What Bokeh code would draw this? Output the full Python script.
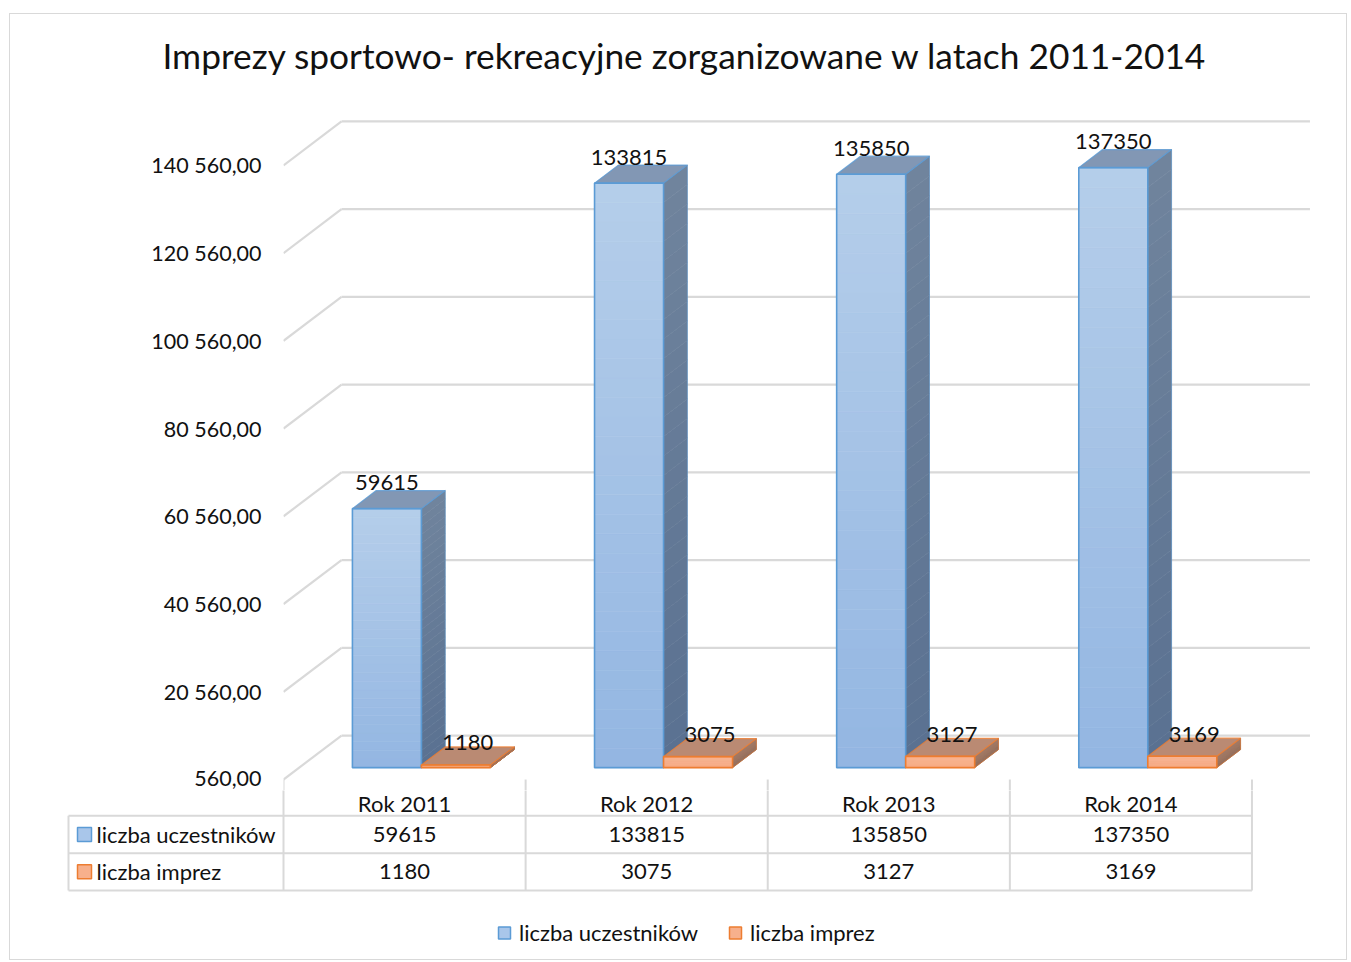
from bokeh.plotting import figure
from bokeh.models import FixedTicker, Legend, LegendItem, ColumnDataSource, Range1d
from bokeh.embed import file_html
from bokeh.resources import INLINE
from bokeh.core.properties import value

# ---------------- data ----------------
title_text = "Imprezy sportowo- rekreacyjne zorganizowane w latach 2011-2014"
categories = ["Rok 2011", "Rok 2012", "Rok 2013", "Rok 2014"]
series_names = ["liczba uczestników", "liczba imprez"]
uczestnicy = [59615, 133815, 135850, 137350]
imprezy = [1180, 3075, 3127, 3169]
y_ticks = [560, 20560, 40560, 60560, 80560, 100560, 120560, 140560]
y_tick_labels = ["560,00", "20 560,00", "40 560,00", "60 560,00",
                 "80 560,00", "100 560,00", "120 560,00", "140 560,00"]

# ---------------- style / geometry ----------------
FONT = "Lato"
TXT = "#111111"
GRID = "#d9d9d9"
BORDER = "#d9d9d9"
W = 1338                         # figure width (content box)
PAGE_X0, PAGE_Y0 = 10, 14        # content origin on the page
FRAME_L, FRAME_R = 283, 1312     # chart frame in page px
FRAME_T = 92
AXIS_Y = 779                     # page y of the front floor edge (value 560)
SPLIT_Y = 791                    # where the chart figure ends and the table figure starts
PAGE_B = 961
PX_PER_VAL = 615.0 / 140000.0
X_MAX = 4.25
PX_PER_CAT = (FRAME_R - FRAME_L) / X_MAX

Y_MIN = y_ticks[0]
Y_TOP = Y_MIN + (AXIS_Y - FRAME_T) / PX_PER_VAL
Y_BOT = Y_MIN - (SPLIT_Y - AXIS_Y) / PX_PER_VAL

DX, DY = 58 / PX_PER_CAT, 44 / PX_PER_VAL   # depth of the 3D box
F0, FD = 0.27, 0.41                          # bar plane position / bar depth (fractions of depth)
BAR_L, BAR_W = 0.22, 0.285
NSTRIP = 30

BLUE = dict(front_top=(0xb5, 0xce, 0xea), front_bot=(0x93, 0xb6, 0xe2),
            side_top=(0x70, 0x84, 0x9d), side_bot=(0x5a, 0x71, 0x91),
            top="#8297b4", line="#5b9bd5")
ORANGE = dict(front_top=(0xf8, 0xb4, 0x93), front_bot=(0xf6, 0xaa, 0x84),
              side_top=(0xa3, 0x7a, 0x66), side_bot=(0x95, 0x70, 0x5d),
              top="#ba8a73", line="#ed7d31")


def mix(c0, c1, f):
    return "#%02x%02x%02x" % tuple(int(round(a + (b - a) * f)) for a, b in zip(c0, c1))


# ---------------- chart figure ----------------
p = figure(width=W, height=SPLIT_Y - PAGE_Y0, x_range=Range1d(0, X_MAX), y_range=Range1d(Y_BOT, Y_TOP),
           output_backend="svg", toolbar_location=None, x_axis_location=None,
           min_border_left=FRAME_L - PAGE_X0, min_border_right=PAGE_X0 + W - FRAME_R,
           min_border_top=FRAME_T - PAGE_Y0, min_border_bottom=0,
           margin=(13, 0, 0, 9),
           styles={"border": "1px solid " + BORDER, "border-bottom": "none"})
p.grid.visible = False
p.outline_line_color = None

p.title.text = title_text
p.title.align = "left"
p.title.offset = 162 - FRAME_L
p.title.standoff = 34
p.title.text_font = FONT
p.title.text_font_size = "35.3px"
p.title.text_font_style = "normal"
p.title.text_color = TXT

ax = p.yaxis[0]
ax.ticker = FixedTicker(ticks=y_ticks)
ax.major_label_overrides = {t: l for t, l in zip(y_ticks, y_tick_labels)}
ax.axis_line_color = None
ax.major_tick_line_color = None
ax.minor_tick_line_color = None
ax.major_label_standoff = 16
ax.major_label_text_font = FONT
ax.major_label_text_font_size = "21.5px"
ax.major_label_text_color = TXT

n_cat = len(categories)
nt = len(y_ticks)
# back wall and side wall grid lines
p.segment(x0=[DX] * nt, y0=[t + DY for t in y_ticks], x1=[n_cat + DX] * nt, y1=[t + DY for t in y_ticks],
          line_color=GRID, line_width=2.2)
p.segment(x0=[0] * nt, y0=y_ticks, x1=[DX] * nt, y1=[t + DY for t in y_ticks],
          line_color=GRID, line_width=2.2)
# top part of the data-table column separators
p.segment(x0=list(range(n_cat + 1)), y0=[Y_MIN] * (n_cat + 1), x1=list(range(n_cat + 1)),
          y1=[Y_BOT] * (n_cat + 1), line_color=GRID, line_width=2)


def draw_bars(values, left, col):
    ddx, ddy = FD * DX, FD * DY
    fs = dict(l=[], r=[], b=[], t=[], c=[])
    ss = dict(xs=[], ys=[], c=[])
    fr = dict(xs=[], ys=[])
    sd = dict(xs=[], ys=[])
    tp = dict(xs=[], ys=[])
    for i, v in enumerate(values):
        x0 = i + left + F0 * DX
        x1 = x0 + BAR_W
        b = Y_MIN + F0 * DY
        t = v + F0 * DY
        for k in range(NSTRIP):
            ya = b + (t - b) * k / NSTRIP
            yb = b + (t - b) * (k + 1) / NSTRIP
            f = (k + 0.5) / NSTRIP
            fs["l"].append(x0); fs["r"].append(x1); fs["b"].append(ya); fs["t"].append(yb)
            fs["c"].append(mix(col["front_bot"], col["front_top"], f))
            ss["xs"].append([x1, x1 + ddx, x1 + ddx, x1])
            ss["ys"].append([ya, ya + ddy, yb + ddy, yb])
            ss["c"].append(mix(col["side_bot"], col["side_top"], f))
        fr["xs"].append([x0, x1, x1, x0]); fr["ys"].append([b, b, t, t])
        sd["xs"].append([x1, x1 + ddx, x1 + ddx, x1]); sd["ys"].append([b, b + ddy, t + ddy, t])
        tp["xs"].append([x0, x1, x1 + ddx, x0 + ddx]); tp["ys"].append([t, t, t + ddy, t + ddy])
    p.quad(left="l", right="r", bottom="b", top="t", source=ColumnDataSource(fs),
           fill_color="c", line_color="c", line_width=0.6)
    p.patches(xs="xs", ys="ys", source=ColumnDataSource(ss), fill_color="c", line_color="c", line_width=0.6)
    p.patches(xs="xs", ys="ys", source=ColumnDataSource(tp), fill_color=col["top"],
              line_color=col["line"], line_width=1.2, line_alpha=0.8)
    p.patches(xs="xs", ys="ys", source=ColumnDataSource(sd), fill_alpha=0,
              line_color=col["line"], line_width=1.0, line_alpha=0.5)
    p.patches(xs="xs", ys="ys", source=ColumnDataSource(fr), fill_alpha=0,
              line_color=col["line"], line_width=1.6)


draw_bars(uczestnicy, BAR_L, BLUE)
draw_bars(imprezy, BAR_L + BAR_W, ORANGE)

# data labels
lab_blue = ColumnDataSource(dict(
    x=[i + BAR_L + F0 * DX + BAR_W / 2 for i in range(n_cat)],
    y=[v + F0 * DY + FD * DY for v in uczestnicy],
    t=[str(v) for v in uczestnicy]))
lab_or = ColumnDataSource(dict(
    x=[i + BAR_L + BAR_W + F0 * DX + BAR_W / 2 + FD * DX / 2 for i in range(n_cat)],
    y=[v + F0 * DY + FD * DY for v in imprezy],
    t=[str(v) for v in imprezy]))
for src, yo in [(lab_blue, -8), (lab_or, -4)]:
    p.text(x="x", y="y", text="t", source=src, text_align="center", text_baseline="middle",
           text_font=value(FONT), text_font_size="22px", text_color=TXT, y_offset=yo)

# ---------------- data table figure ----------------
ROW = 37.33
TAB_FRAME_L = 58
x_start = -(FRAME_L - TAB_FRAME_L) / PX_PER_CAT
t = figure(width=W, height=PAGE_B - SPLIT_Y, x_range=Range1d(x_start, X_MAX),
           y_range=Range1d(-(PAGE_B - AXIS_Y) / ROW, -(SPLIT_Y - AXIS_Y) / ROW),
           output_backend="svg", toolbar_location=None, x_axis_location=None, y_axis_location=None,
           min_border_left=TAB_FRAME_L - PAGE_X0, min_border_right=PAGE_X0 + W - FRAME_R,
           min_border_top=0, min_border_bottom=0,
           margin=(0, 0, 0, 9),
           styles={"border": "1px solid " + BORDER, "border-top": "none"})
t.grid.visible = False
t.outline_line_color = None

TAB_X0 = -(FRAME_L - 68) / PX_PER_CAT     # left edge of the row-label column
SQ_X = -(FRAME_L - 84) / PX_PER_CAT
LAB_X = -(FRAME_L - 96) / PX_PER_CAT
HEAD_Y = -(804 - AXIS_Y) / ROW

t.segment(x0=list(range(n_cat + 1)), y0=[0] * (n_cat + 1), x1=list(range(n_cat + 1)),
          y1=[-3] * (n_cat + 1), line_color=GRID, line_width=2)
t.segment(x0=[TAB_X0], y0=[-1], x1=[TAB_X0], y1=[-3], line_color=GRID, line_width=2)
t.segment(x0=[TAB_X0] * 3, y0=[-1, -2, -3], x1=[n_cat] * 3, y1=[-1, -2, -3],
          line_color=GRID, line_width=2)

common = dict(text_baseline="middle", text_font=value(FONT), text_font_size="22px", text_color=TXT)
t.text(x=[i + 0.5 for i in range(n_cat)], y=[HEAD_Y] * n_cat, text=categories, text_align="center", **common)
t.text(x=[i + 0.5 for i in range(n_cat)], y=[-1.5] * n_cat, text=[str(v) for v in uczestnicy],
       text_align="center", **common)
t.text(x=[i + 0.5 for i in range(n_cat)], y=[-2.5] * n_cat, text=[str(v) for v in imprezy],
       text_align="center", **common)
t.text(x=[LAB_X, LAB_X], y=[-1.5, -2.5], text=series_names, text_align="left", **common)

sq_blue = t.scatter(x=[SQ_X], y=[-1.5], marker="square", size=14, fill_color="#a9c6ea",
                    line_color=BLUE["line"], line_width=1.5)
sq_or = t.scatter(x=[SQ_X], y=[-2.5], marker="square", size=14, fill_color="#f7b08c",
                  line_color=ORANGE["line"], line_width=1.5)

legend = Legend(items=[LegendItem(label=series_names[0], renderers=[sq_blue]),
                       LegendItem(label=series_names[1], renderers=[sq_or])],
                orientation="horizontal", location=(489 - TAB_FRAME_L, 10), glyph_width=30, glyph_height=35,
                label_standoff=0, spacing=22, padding=0, margin=0,
                border_line_color=None, background_fill_alpha=0,
                label_text_font=FONT, label_text_font_size="22px", label_text_color=TXT)
t.add_layout(legend)

open("out.html", "w").write(file_html([p, t], INLINE))
